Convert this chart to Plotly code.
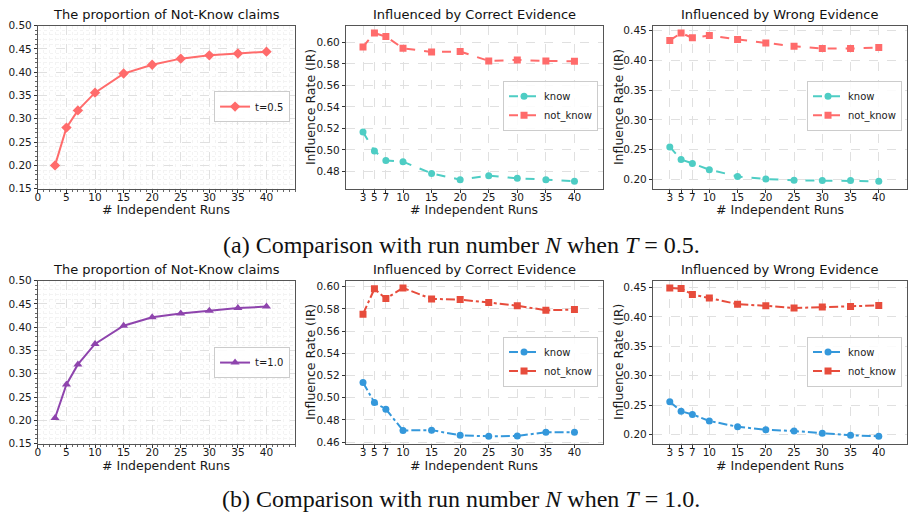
import plotly.graph_objects as go

W, H = 911, 520

runs = [3, 5, 7, 10, 15, 20, 25, 30, 35, 40]
tick_runs = [3, 5, 7, 10, 15, 20, 25, 30, 35, 40]
prop_ticks = [0, 5, 10, 15, 20, 25, 30, 35, 40]

# (a) T = 0.5
prop_t05 = [0.200, 0.281, 0.318, 0.356, 0.397, 0.416, 0.429, 0.436, 0.440, 0.444]
corr_know_t05 = [0.5166, 0.4990, 0.4903, 0.4891, 0.4782, 0.4724, 0.4761, 0.4737, 0.4724, 0.4709]
corr_notknow_t05 = [0.5958, 0.6088, 0.6054, 0.5946, 0.5912, 0.5915, 0.5828, 0.5837, 0.5828, 0.5825]
wrong_know_t05 = [0.2549, 0.2337, 0.2272, 0.2168, 0.2054, 0.2011, 0.1989, 0.1984, 0.1984, 0.1973]
wrong_notknow_t05 = [0.4332, 0.4457, 0.4375, 0.4413, 0.4348, 0.4288, 0.4234, 0.4196, 0.4196, 0.4212]

# (b) T = 1.0
prop_t10 = [0.205, 0.277, 0.320, 0.364, 0.403, 0.421, 0.429, 0.435, 0.441, 0.444]
corr_know_t10 = [0.5137, 0.4956, 0.4897, 0.4705, 0.4708, 0.4661, 0.4653, 0.4655, 0.4690, 0.4688]
corr_notknow_t10 = [0.5752, 0.5980, 0.5892, 0.5988, 0.5889, 0.5883, 0.5857, 0.5828, 0.5787, 0.5793]
wrong_know_t10 = [0.2559, 0.2398, 0.2343, 0.2232, 0.2133, 0.2083, 0.2061, 0.2022, 0.1989, 0.1972]
wrong_notknow_t10 = [0.4494, 0.4483, 0.4384, 0.4323, 0.4218, 0.4190, 0.4152, 0.4168, 0.4179, 0.4196]

titles = ["The proportion of Not-Know claims", "Influenced by Correct Evidence", "Influenced by Wrong Evidence"]
captions = ["(a) Comparison with run number <i>N</i> when <i>T</i> = 0.5.",
            "(b) Comparison with run number <i>N</i> when <i>T</i> = 1.0."]

FONT = "DejaVu Sans"
FRAME = "#555555"
GRID = "#e0e0e0"
TXT = "#1a1a1a"

fig = go.Figure()

# pixel boxes: (left, right, top, bottom)
cols = [(35, 293), (344, 602), (652, 907)]
ytitle_x = [None, 308, 617]
rows = [(20, 187), (281, 448)]
xtitle_y = [208, 470]
legend_y = [(103, 102), (365, 364)]


def px_x(p):
    return p / W


def px_y(p):
    return 1 - p / H


def auto_range(*series):
    vals = [v for s in series for v in s]
    lo, hi = min(vals), max(vals)
    m = (hi - lo) * 0.05
    return [lo - m, hi + m]


idx = 0
for r, (top, bot) in enumerate(rows):
    for c, (left, right) in enumerate(cols):
        idx += 1
        xa = "xaxis" if idx == 1 else f"xaxis{idx}"
        ya = "yaxis" if idx == 1 else f"yaxis{idx}"
        xref = "x" if idx == 1 else f"x{idx}"
        yref = "y" if idx == 1 else f"y{idx}"
        lg = "legend" if idx == 1 else f"legend{idx}"

        if c == 0:
            if r == 0:
                traces = [("t=0.5", prop_t05, "#FF6B6B", "diamond", "solid", 8)]
            else:
                traces = [("t=1.0", prop_t10, "#8E44AD", "triangle-up", "solid", 8)]
            yrange = [0.15, 0.50]
            ydtick = 0.05
        elif c == 1:
            if r == 0:
                traces = [("know", corr_know_t05, "#4ECDC4", "circle", "dash", 7),
                          ("not_know", corr_notknow_t05, "#FF6B6B", "square", "dash", 7)]
                yrange = auto_range(corr_know_t05, corr_notknow_t05)
            else:
                traces = [("know", corr_know_t10, "#3498DB", "circle", "dashdot", 7),
                          ("not_know", corr_notknow_t10, "#E74C3C", "square", "dashdot", 7)]
                yrange = auto_range(corr_know_t10, corr_notknow_t10)
            ydtick = 0.02
        else:
            if r == 0:
                traces = [("know", wrong_know_t05, "#4ECDC4", "circle", "dash", 7),
                          ("not_know", wrong_notknow_t05, "#FF6B6B", "square", "dash", 7)]
                yrange = auto_range(wrong_know_t05, wrong_notknow_t05)
            else:
                traces = [("know", wrong_know_t10, "#3498DB", "circle", "dashdot", 7),
                          ("not_know", wrong_notknow_t10, "#E74C3C", "square", "dashdot", 7)]
                yrange = auto_range(wrong_know_t10, wrong_notknow_t10)
            ydtick = 0.05

        for name, ys, color, sym, dash, ms in traces:
            fig.add_trace(go.Scatter(
                x=runs, y=ys, name=name, mode="lines+markers",
                line=dict(color=color, width=2, dash=dash),
                marker=dict(color=color, symbol=sym, size=ms),
                xaxis=xref, yaxis=yref, legend=lg, showlegend=True,
            ))

        xaxis = dict(
            domain=[px_x(left), px_x(right)], anchor=yref, range=[0, 45],
            showline=True, linecolor=FRAME, linewidth=1, mirror=True,
            ticks="outside", ticklen=3, tickcolor="#333", tickwidth=1,
            tickfont=dict(family=FONT, size=10.5, color=TXT),
            ticklabelstandoff=-4,
            showgrid=True, gridcolor=GRID, griddash="dash", gridwidth=1,
            zeroline=False,
        )
        yaxis = dict(
            domain=[px_y(bot), px_y(top)], anchor=xref, range=yrange,
            showline=True, linecolor=FRAME, linewidth=1, mirror=True,
            ticks="outside", ticklen=3, tickcolor="#333", tickwidth=1,
            tickfont=dict(family=FONT, size=10.5, color=TXT),
            showgrid=True, gridcolor=GRID, griddash="dash", gridwidth=1,
            zeroline=False, dtick=ydtick, tickformat=".2f", tick0=0,
        )
        if c == 0:
            xaxis.update(tickmode="array", tickvals=prop_ticks,
                         minor=dict(dtick=1, showgrid=True, gridcolor="#f3f3f3", griddash="dot",
                                    ticks="outside", ticklen=2, tickcolor="#666"))
            yaxis.update(minor=dict(dtick=0.01, showgrid=True, gridcolor="#f3f3f3", griddash="dot",
                                    ticks="outside", ticklen=2, tickcolor="#666"))
        else:
            xaxis.update(tickmode="array", tickvals=tick_runs, ticktext=[str(t) for t in tick_runs])
            fig.add_annotation(
                text="Influence Rate (IR)", xref="paper", yref="paper",
                x=px_x(ytitle_x[c]), y=px_y((top + bot) / 2), xanchor="center", yanchor="middle",
                textangle=-90, showarrow=False, font=dict(family=FONT, size=12.5, color=TXT),
            )
        fig.layout[xa] = xaxis
        fig.layout[ya] = yaxis

        # x-axis title
        fig.add_annotation(
            text="# Independent Runs", xref="paper", yref="paper",
            x=px_x((left + right) / 2), y=px_y(xtitle_y[r]), xanchor="center", yanchor="middle",
            showarrow=False, font=dict(family=FONT, size=12.5, color=TXT),
        )

        # legend
        if c == 0:
            lx, ly = right - 5, legend_y[r][0]
        else:
            lx, ly = right - 5, legend_y[r][1]
        fig.layout[lg] = dict(
            x=px_x(lx), y=px_y(ly), xanchor="right", yanchor="middle",
            xref="paper", yref="paper",
            bgcolor="rgba(255,255,255,0.85)", bordercolor="#cccccc", borderwidth=1,
            font=dict(family=FONT, size=10, color=TXT),
            itemwidth=30, tracegroupgap=0,
        )

        # subplot title
        fig.add_annotation(
            text=titles[c], xref="paper", yref="paper",
            x=px_x((left + right) / 2), y=px_y(top - 2), xanchor="center", yanchor="bottom",
            showarrow=False, font=dict(family=FONT, size=13, color="#111"),
        )

# captions
fig.add_annotation(text=captions[0], xref="paper", yref="paper", x=px_x(460), y=px_y(245),
                   xanchor="center", yanchor="middle", showarrow=False,
                   font=dict(family="Liberation Serif", size=24, color="#111"))
fig.add_annotation(text=captions[1], xref="paper", yref="paper", x=px_x(460), y=px_y(505),
                   xanchor="center", yanchor="middle", showarrow=False,
                   font=dict(family="Liberation Serif", size=24, color="#111"))

fig.update_layout(
    width=W, height=H, margin=dict(l=0, r=0, t=0, b=0),
    paper_bgcolor="white", plot_bgcolor="white",
)

fig.write_html("out.html")
